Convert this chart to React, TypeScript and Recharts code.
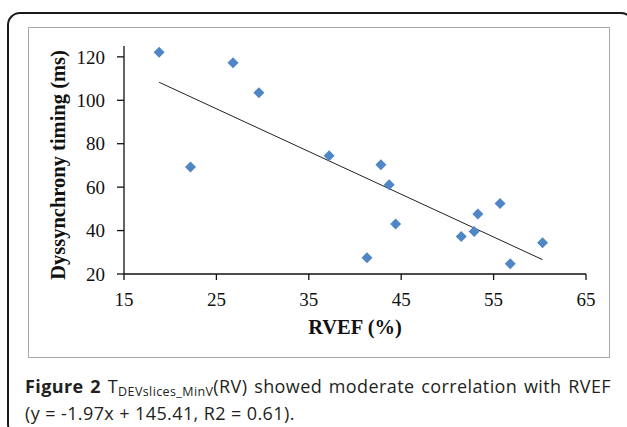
import { ScatterChart, Scatter, XAxis, YAxis, ReferenceLine } from 'recharts';

// RVEF (%) on x, dyssynchrony timing (ms) on y
const rvef = [18.8, 22.2, 26.8, 29.6, 37.2, 42.8, 43.7, 44.4, 41.3, 51.5, 52.9, 53.3, 55.7, 56.8, 60.3];
const timing = [122.1, 69.3, 117.3, 103.5, 74.4, 70.3, 61.1, 43.0, 27.5, 37.3, 39.6, 47.6, 52.5, 24.7, 34.4];

const xTicks = [15, 25, 35, 45, 55, 65];
const yTicks = [20, 40, 60, 80, 100, 120];

// linear trend line end points
const trendX = [18.8, 60.3];
const trendY = [108.3, 26.6];

const points = rvef.map((x, i) => ({ x, y: timing[i] }));

const tickStyle = { fontFamily: '"Liberation Serif", serif', fontSize: 19, fill: '#111' };
const titleStyle = { fontFamily: '"Liberation Serif", serif', fontSize: 20.5, fontWeight: 700, fill: '#111' };

function Diamond(props: any) {
  const { cx, cy } = props;
  const r = 5.5;
  return (
    <path
      d={`M${cx},${cy - r}L${cx + r},${cy}L${cx},${cy + r}L${cx - r},${cy}Z`}
      fill="#4F86C6"
    />
  );
}

export default function App() {
  return (
    <div
      style={{
        position: 'absolute',
        left: 0,
        top: 0,
        width: 627,
        height: 427,
        overflow: 'hidden',
        background: '#fff'
      }}
    >
      <div
        style={{
          position: 'absolute',
          left: 7,
          top: 12,
          width: 623,
          height: 421,
          border: '2px solid #1a1a1a',
          borderRadius: 13
        }}
      />
      <div
        style={{
          position: 'absolute',
          left: 28,
          top: 27,
          width: 580,
          height: 329,
          border: '1px solid #a8a8a8'
        }}
      />
      <div style={{ position: 'absolute', left: 0, top: 0 }}>
        <ScatterChart width={627} height={427} margin={{ top: 46, right: 41, bottom: 0, left: 0 }}>
          <XAxis
            type="number"
            dataKey="x"
            domain={[15, 65]}
            ticks={xTicks}
            height={153}
            tick={tickStyle}
            tickSize={6}
            tickMargin={13}
            axisLine={{ stroke: '#111', strokeWidth: 1.3 }}
            tickLine={{ stroke: '#111', strokeWidth: 1.3 }}
            label={{ value: 'RVEF (%)', position: 'insideTop', offset: 45, style: titleStyle }}
          />
          <YAxis
            type="number"
            dataKey="y"
            domain={[20, 125]}
            ticks={yTicks}
            width={124}
            tick={tickStyle}
            tickSize={7}
            tickMargin={12}
            axisLine={{ stroke: '#111', strokeWidth: 1.3 }}
            tickLine={{ stroke: '#111', strokeWidth: 1.3 }}
            label={{
              value: 'Dyssynchrony timing (ms)',
              angle: -90,
              position: 'center',
              dx: -4,
              dy: 5,
              style: { ...titleStyle, textAnchor: 'middle' }
            }}
          />
          <ReferenceLine
            segment={[
              { x: trendX[0], y: trendY[0] },
              { x: trendX[1], y: trendY[1] }
            ]}
            stroke="#222"
            strokeWidth={1}
            ifOverflow="visible"
          />
          <Scatter data={points} shape={Diamond} isAnimationActive={false} />
        </ScatterChart>
      </div>
      <div
        style={{
          position: 'absolute',
          left: 25,
          top: 373,
          width: 586,
          fontFamily: '"Open Sans", sans-serif',
          fontSize: 18,
          letterSpacing: 0.4,
          lineHeight: '27px',
          color: '#231f20'
        }}
      >
        <div style={{ textAlign: 'justify', textAlignLast: 'justify', whiteSpace: 'nowrap' }}>
          <b>Figure 2</b> T<sub style={{ fontSize: 12.5, verticalAlign: -3, lineHeight: 0 }}>DEVslices_MinV</sub>(RV) showed
          moderate correlation with RVEF
        </div>
        <div>(y = -1.97x + 145.41, R2 = 0.61).</div>
      </div>
    </div>
  );
}
